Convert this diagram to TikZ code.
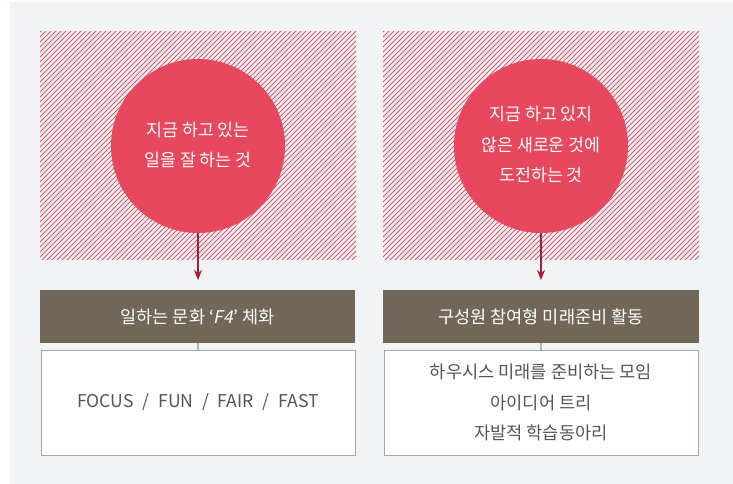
\documentclass[tikz,border=0pt]{standalone}
\usepackage{fontspec}
\setmainfont{Noto Sans CJK KR}
\newfontfamily\krit[FakeSlant=0.2]{Noto Sans CJK KR}
\usetikzlibrary{arrows.meta}
\definecolor{panel}{HTML}{F2F3F5}
\definecolor{hatchc}{HTML}{E5526A}
\definecolor{circc}{HTML}{E8485E}
\definecolor{arrowc}{HTML}{A31F36}
\definecolor{barc}{HTML}{716759}
\definecolor{boxline}{HTML}{A8A8AA}
\definecolor{connc}{HTML}{B4B4B6}
\definecolor{boxtext}{HTML}{555555}
\tikzset{
  hatchline/.style={draw=hatchc, line width=0.9pt},
  bigcircle/.style={circle, fill=circc, minimum size=174pt, inner sep=0pt},
  circtext/.style={text=white, align=center, font=\fontsize{17.3}{30.5}\selectfont},
  barbox/.style={rectangle, fill=barc, minimum height=53pt, inner sep=0pt, text=white, font=\fontsize{17.5}{20}\selectfont},
  listbox/.style={rectangle, draw=boxline, line width=1pt, fill=white, minimum height=105pt, inner sep=0pt, text=boxtext, align=center, font=\fontsize{17.6}{30.5}\selectfont},
  downarrow/.style={draw=arrowc, line width=1.2pt, -{Stealth[length=10pt,width=8pt,inset=3pt]}},
  connline/.style={draw=connc, line width=1.3pt}
}
\begin{document}
\begin{tikzpicture}[x=1pt,y=-1pt]
\useasboundingbox (0,0) rectangle (733,484);
\fill[white] (0,0) rectangle (733,484);
\fill[panel] (10,2) rectangle (733,484);
% left hatch
\begin{scope}
\clip (40,32) rectangle (356,259);
\foreach \c in {72,77,...,620} \draw[hatchline] (\c-262,262) -- (\c-29,29);
\end{scope}
% right hatch
\begin{scope}
\clip (383,32) rectangle (699,259);
\foreach \c in {415,420,...,962} \draw[hatchline] (\c-262,262) -- (\c-29,29);
\end{scope}
% circles
\node[bigcircle] (c1) at (198,146) {};
\node[circtext] (t1) at (198,145) {지금 하고 있는\\일을 잘 하는 것};
\node[bigcircle] (c2) at (541,146) {};
\node[circtext] (t2) at (541,145) {지금 하고 있지\\않은 새로운 것에\\도전하는 것};
% bars
\node[barbox, minimum width=315pt] (b1) at (197.5,316.5) {일하는 문화 ‘{\krit F4}’ 체화};
\node[barbox, minimum width=316pt] (b2) at (541,316.5) {구성원 참여형 미래준비 활동};
% boxes
\node[listbox, minimum width=314pt] (x1) at (198,402.5) {FOCUS\hspace{0.5em}/\hspace{0.5em}FUN\hspace{0.5em}/\hspace{0.5em}FAIR\hspace{0.5em}/\hspace{0.5em}FAST};
\node[listbox, minimum width=314pt] (x2) at (541,402.5) {하우시스 미래를 준비하는 모임\\아이디어 트리\\자발적 학습동아리};
% arrows
\coordinate (a1) at (198,280);
\coordinate (a2) at (541,280);
\draw[downarrow] (c1.south) -- (a1);
\draw[downarrow] (c2.south) -- (a2);
% connectors
\draw[connline] (b1.south -| x1.north) -- (x1.north);
\draw[connline] (b2.south) -- (b2.south |- x2.north);
\end{tikzpicture}
\end{document}
